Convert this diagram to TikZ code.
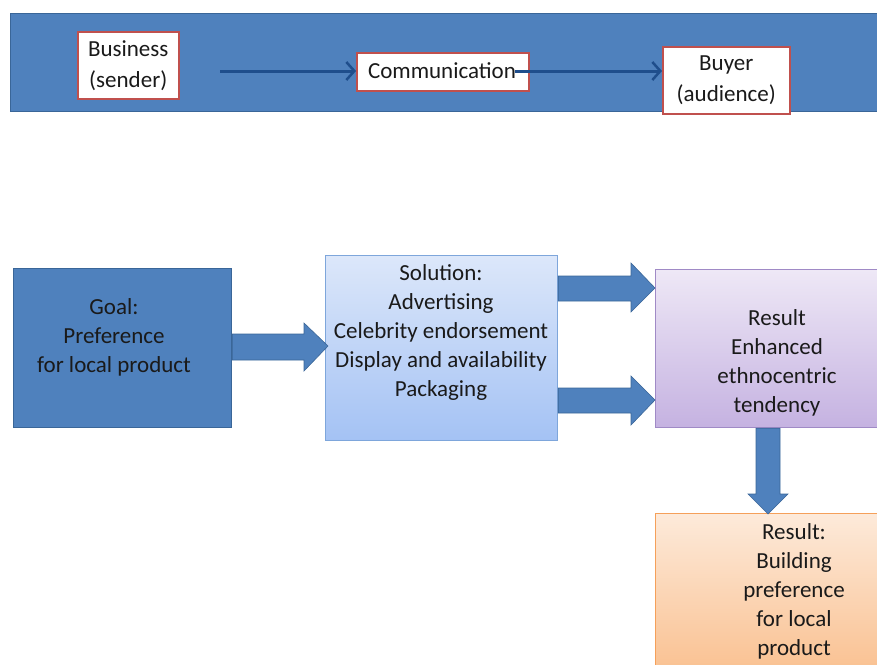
\documentclass[tikz,border=0pt]{standalone}
\usepackage{fontspec}
\setmainfont{Carlito}
\usetikzlibrary{arrows.meta}
\definecolor{bannerblue}{HTML}{4F81BD}
\definecolor{bannerline}{HTML}{3A6698}
\definecolor{redline}{HTML}{C0504D}
\definecolor{navy}{HTML}{1F4E8C}
\definecolor{soltop}{HTML}{DCE7FA}
\definecolor{solbot}{HTML}{A4C2F4}
\definecolor{solline}{HTML}{7EA6DB}
\definecolor{restop}{HTML}{EEE8F6}
\definecolor{resbot}{HTML}{C5B2E1}
\definecolor{resline}{HTML}{A08AC6}
\definecolor{ortop}{HTML}{FDEADA}
\definecolor{orbot}{HTML}{F9BE8C}
\definecolor{orline}{HTML}{F5A05A}
\definecolor{txt}{HTML}{1A1A1A}
\tikzset{
  txtfont/.style={font=\fontsize{23}{29}\selectfont, text=txt, align=center},
  whitebox/.style={draw=redline, line width=1.5pt, fill=white, inner sep=0pt, anchor=north west, txtfont},
  bigbox/.style={inner sep=0pt, anchor=north west, line width=1.2pt, txtfont},
  thinarr/.style={draw=navy, line width=3pt, -{Straight Barb[length=8pt,width=18pt,line width=2.5pt]}},
  blockarr/.style={fill=bannerblue, draw=bannerline, line width=0.6pt, line join=miter}
}
\begin{document}
\begin{tikzpicture}[x=1pt,y=-1pt]
\useasboundingbox (0,0) rectangle (877,664);
\clip (0,0) rectangle (877,664);
% top banner
\node[draw=bannerline, fill=bannerblue, line width=1pt, minimum width=900pt, minimum height=98pt, inner sep=0pt, anchor=north west] (banner) at (10,13) {};
\node[whitebox, minimum width=101pt, minimum height=67pt] (business) at (77,31) {Business\\[2pt](sender)};
\node[whitebox, minimum width=172pt, minimum height=38pt] (comm) at (356,52) {};
\node[txtfont] at (442,71) {Communication};
\node[whitebox, minimum width=127pt, minimum height=67pt] (buyer) at (662,46) {Buyer\\[2pt](audience)};
\coordinate (a1start) at (220,71);
\coordinate (a2start) at (515,71);
\draw[thinarr] (a1start) -- (comm.west |- a1start);
\draw[thinarr] (a2start) -- (buyer.west |- a2start);
% bottom boxes
\node[bigbox, draw=bannerline, fill=bannerblue, minimum width=218pt, minimum height=159pt] (goal) at (13,268) {};
\node[txtfont] at (114,337) {Goal:\\Preference\\for local product};
\node[bigbox, draw=solline, top color=soltop, bottom color=solbot, minimum width=232pt, minimum height=185pt] (sol) at (325,255) {};
\node[txtfont, anchor=north] at (441,261) {Solution:\\Advertising\\Celebrity endorsement\\Display and availability\\Packaging};
\node[bigbox, draw=resline, top color=restop, bottom color=resbot, minimum width=240pt, minimum height=158pt] (res) at (655,269) {};
\node[txtfont, anchor=north] at (777,306) {Result\\Enhanced\\ethnocentric\\tendency};
\node[bigbox, draw=orline, top color=ortop, bottom color=orbot, minimum width=240pt, minimum height=170pt] (res2) at (655,513) {};
\node[txtfont, anchor=north] at (794,520) {Result:\\Building\\preference\\for local\\product};
% block arrows
\draw[blockarr] (goal.east |- 0,334) -- (304,334) -- (304,323) -- (328,346) -- (304,371) -- (304,360) -- (goal.east |- 0,360) -- cycle;
\draw[blockarr] (sol.east |- 0,276) -- (631,276) -- (631,263) -- (655,288) -- (631,312) -- (631,301) -- (sol.east |- 0,301) -- cycle;
\draw[blockarr] (sol.east |- 0,388) -- (631,388) -- (631,376) -- (655,400) -- (631,425) -- (631,413) -- (sol.east |- 0,413) -- cycle;
\draw[blockarr] (756,0 |- res.south) -- (756,494) -- (748,494) -- (768,514) -- (788,494) -- (780,494) -- (780,0 |- res.south) -- cycle;
\end{tikzpicture}
\end{document}
